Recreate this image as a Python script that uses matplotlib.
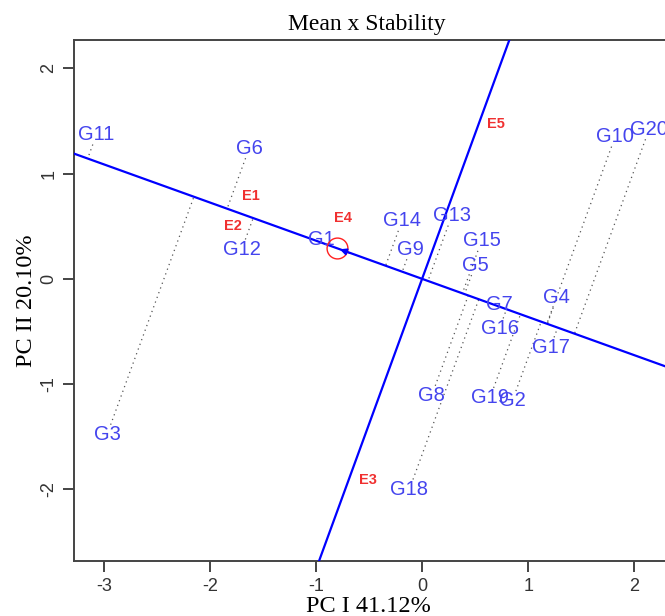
import numpy as np
import matplotlib
matplotlib.use("Agg")
import matplotlib.pyplot as plt

plt.rcParams["axes.unicode_minus"] = False

# genotype scores (PC1, PC2)
gen_names = ["G1", "G2", "G3", "G4", "G5", "G6", "G7", "G8", "G9", "G10",
             "G11", "G12", "G13", "G14", "G15", "G16", "G17", "G18", "G19", "G20"]
gen_x = [-0.95, 0.85, -2.97, 1.27, 0.50, -1.63, 0.73, 0.09, -0.11, 1.82,
         -3.07, -1.70, 0.28, -0.19, 0.56, 0.73, 1.21, -0.12, 0.64, 2.14]
gen_y = [0.37, -1.16, -1.48, -0.18, 0.13, 1.24, -0.24, -1.11, 0.28, 1.35,
         1.37, 0.28, 0.60, 0.55, 0.36, -0.47, -0.65, -2.00, -1.13, 1.42]

# environment scores
env_names = ["E1", "E2", "E3", "E4", "E5"]
env_x = [-1.61, -1.78, -0.51, -0.75, 0.70]
env_y = [0.79, 0.50, -1.91, 0.58, 1.47]

# average environment
ae_x, ae_y = -0.80, 0.29

fig = plt.figure(figsize=(6.65, 6.16), dpi=100)
ax = fig.add_axes([0.111, 0.0893, 0.905, 0.846])
xmin, xmax = -3.283, 2.39
ymin, ymax = -2.68, 2.27

# average environment axis and its perpendicular
d = np.array([ae_x, ae_y]) / np.hypot(ae_x, ae_y)
t = np.linspace(-10, 10, 2)
ax.plot(t * d[0], t * d[1], color="#0000FF", lw=1.6, zorder=3)
ax.plot(-t * d[1], t * d[0], color="#0000FF", lw=1.6, zorder=3)

# projections of genotypes on the AEA
for gx, gy in zip(gen_x, gen_y):
    p = np.array([gx, gy])
    proj = (p @ d) * d
    v = proj - p
    L = np.hypot(*v)
    if L > 0.12:
        start = p + v / L * 0.1
        ax.plot([start[0], proj[0]], [start[1], proj[1]], ls=(0, (1, 3)),
                color="#555555", lw=0.9, zorder=2)

for name, gx, gy in zip(gen_names, gen_x, gen_y):
    ax.text(gx, gy, name, color="#4444EE", fontsize=14.5, ha="center",
            va="center", family="Liberation Sans", zorder=4)

for name, ex, ey in zip(env_names, env_x, env_y):
    ax.text(ex, ey, name, color="#F03030", fontsize=10.5, fontweight="bold",
            ha="center", va="center", family="Liberation Sans", zorder=4)

ax.plot(ae_x, ae_y, marker="o", ms=15, mfc="none", mec="#FF2020", mew=1.0, zorder=5)
ax.annotate("", xy=(ae_x, ae_y), xytext=(ae_x + 0.15, ae_y - 0.056),
            arrowprops=dict(arrowstyle="-|>", color="#0000FF", lw=1.2,
                            mutation_scale=10), zorder=5)

ax.set_xlim(xmin, xmax)
ax.set_ylim(ymin, ymax)
ax.set_xticks([-3, -2, -1, 0, 1, 2])
ax.set_yticks([-2, -1, 0, 1, 2])
ax.spines["right"].set_visible(False)
for s in ["left", "top", "bottom"]:
    ax.spines[s].set_color("#444444")
    ax.spines[s].set_linewidth(1.4)
ax.tick_params(length=8, width=1.4, color="#444444", labelsize=13,
               labelcolor="#333333", pad=4)
for lab in ax.get_xticklabels() + ax.get_yticklabels():
    lab.set_family("Liberation Sans")
for lab in ax.get_yticklabels():
    lab.set_rotation(90)
    lab.set_va("center")

ax.set_title("Mean x Stability", family="Liberation Serif", fontsize=17,
             pad=7, x=0.487)
ax.set_xlabel("PC I 41.12%", family="Liberation Serif", fontsize=17.5)
ax.xaxis.set_label_coords(0.49, -0.068, transform=ax.transAxes)
ax.xaxis.label.set_va("top")
ax.set_ylabel("PC II 20.10%", family="Liberation Serif", fontsize=17.5, labelpad=2)

fig.savefig("out.png", dpi=100)
